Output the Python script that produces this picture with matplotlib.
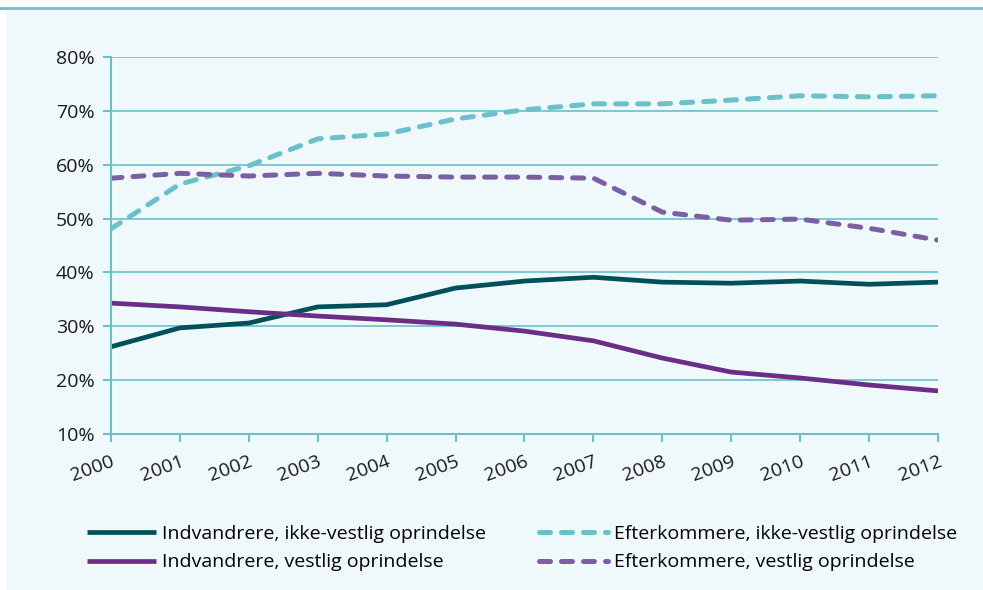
import matplotlib.pyplot as plt
from matplotlib.patches import Rectangle
from matplotlib.ticker import FuncFormatter

years = list(range(2000, 2013))
indv_ikke_vestlig = [26.2, 29.7, 30.6, 33.6, 34.0, 37.1, 38.4, 39.1, 38.2, 38.0, 38.4, 37.8, 38.2]
indv_vestlig = [34.3, 33.6, 32.7, 31.9, 31.2, 30.4, 29.1, 27.3, 24.1, 21.5, 20.4, 19.1, 18.0]
efterk_ikke_vestlig = [48.1, 56.4, 59.8, 64.8, 65.7, 68.5, 70.2, 71.3, 71.3, 72.0, 72.8, 72.6, 72.8]
efterk_vestlig = [57.5, 58.4, 57.9, 58.4, 57.9, 57.7, 57.7, 57.5, 51.2, 49.7, 49.9, 48.2, 46.0]
labels = ['Indvandrere, ikke-vestlig oprindelse', 'Indvandrere, vestlig oprindelse',
          'Efterkommere, ikke-vestlig oprindelse', 'Efterkommere, vestlig oprindelse']

plt.rcParams['font.family'] = ['Open Sans', 'DejaVu Sans']

bg = '#eff8fa'
teal = '#6cc0ca'

fig = plt.figure(figsize=(9.83, 5.9), dpi=100)
fig.patch.set_facecolor('white')
fig.patches.append(Rectangle((0.006, 0), 0.994, 0.983, transform=fig.transFigure,
                             facecolor=bg, edgecolor='none', zorder=-10))
fig.lines.append(plt.Line2D([0, 1], [0.986, 0.986], transform=fig.transFigure,
                            color=teal, lw=2))

ax = fig.add_axes([0.1129, 0.2644, 0.8413, 0.639])
ax.set_facecolor(bg)

l1, = ax.plot(years, indv_ikke_vestlig, color='#00505a', lw=3.4, solid_capstyle='butt')
l3, = ax.plot(years, indv_vestlig, color='#6a2e86', lw=3.4, solid_capstyle='butt')
l2, = ax.plot(years, efterk_ikke_vestlig, color='#6cc0ca', lw=3.6,
              dashes=(2.2, 2.2), dash_capstyle='round')
l4, = ax.plot(years, efterk_vestlig, color='#7b5fa3', lw=3.6,
              dashes=(2.2, 2.2), dash_capstyle='round')

ax.set_xlim(2000, 2012)
ax.set_ylim(10, 80)
ax.set_yticks(range(10, 81, 10))
ax.set_xticks(years)
ax.yaxis.set_major_formatter(FuncFormatter(lambda v, p: f'{v:.0f}%'))
ax.grid(axis='y', color=teal, lw=1.2)
ax.set_axisbelow(True)
for s in ['top', 'right']:
    ax.spines[s].set_visible(False)
for s in ['left', 'bottom']:
    ax.spines[s].set_color(teal)
    ax.spines[s].set_linewidth(1.5)
ax.tick_params(axis='both', colors=teal, width=1.5, length=6, labelcolor='#1a1a1a', labelsize=14)
ax.tick_params(axis='y', pad=6)
ax.tick_params(axis='x', pad=7)
for t in ax.get_xticklabels():
    t.set_rotation(20)
    t.set_ha('right')
    t.set_rotation_mode('anchor')

fig.legend([l1, l3, l2, l4], labels, ncol=2, loc='center left',
           bbox_to_anchor=(0.071, 0.071), frameon=False, fontsize=14,
           handlelength=3.55, handletextpad=0.3, columnspacing=2.7, labelspacing=0.55)

plt.savefig('out.png', dpi=100, facecolor=fig.get_facecolor())
